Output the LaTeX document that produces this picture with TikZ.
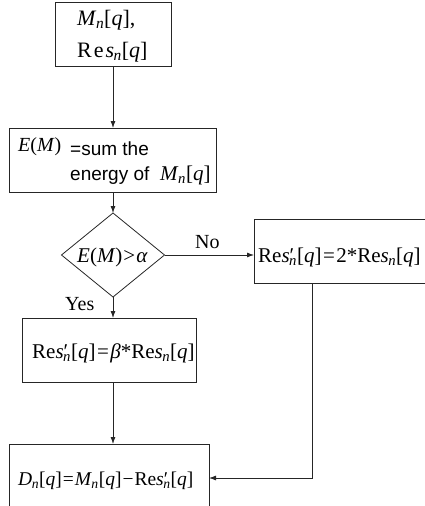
\documentclass[tikz,border=0pt]{standalone}
\usepackage{fontspec}
\setmainfont{Liberation Serif}
\newfontfamily\arialfont{Liberation Sans}
\usetikzlibrary{arrows.meta,shapes.geometric}
\newcommand{\sbn}{\kern-0.5pt\textsubscript{\itshape n}}
\newcommand{\vi}[1]{\textit{#1}}
\newcommand{\pr}{\rlap{′}}
\begin{document}
\begin{tikzpicture}[x=1pt,y=-1pt,
  box/.style={draw=black!85, rectangle, line width=0.8pt, inner sep=0pt, outer sep=0pt, anchor=north west},
  dia/.style={draw=black!85, diamond, line width=0.8pt, inner sep=0pt, outer sep=0pt, aspect=1},
  txt/.style={anchor=base west, inner sep=0pt, font=\fontsize{21}{23}\selectfont},
  stxt/.style={anchor=base west, inner sep=0pt, font=\arialfont\fontsize{19}{21}\selectfont},
  arr/.style={draw=black!85, line width=0.8pt, -{Latex[length=7pt,width=5pt]}},
  ln/.style={draw=black!85, line width=0.8pt}]
\useasboundingbox (0,0) rectangle (425,506);
\clip (0,0) rectangle (425,506);
% boxes
\node[box, minimum width=116pt, minimum height=64pt] (b1) at (55,2) {};
\node[box, minimum width=207pt, minimum height=64pt] (b2) at (9,128) {};
\node[dia, minimum width=103pt, minimum height=84pt] (d) at (113,255) {};
\node[box, minimum width=176pt, minimum height=64pt] (b3) at (254,219) {};
\node[box, minimum width=174pt, minimum height=64pt] (b4) at (22,318) {};
\node[box, minimum width=200pt, minimum height=68pt] (b5) at (9,444) {};
% texts
\node[txt, font=\fontsize{22}{24}\selectfont] (t1a) at (77,25) {\vi{M}\sbn[\vi{q}],};
\node[txt, font=\fontsize{22}{24}\selectfont] (t1b) at (77,57) {R\kern2pt e\kern2pt\vi{s}\sbn[\vi{q}]};
\node[txt, font=\fontsize{20}{22}\selectfont] (t2a) at (18,151) {\vi{E}(\vi{M})};
\node[stxt] (t2b) at (70,155) {=sum the};
\node[stxt] (t2c) at (70,180) {energy of};
\node[txt] (t2d) at (160,180) {\vi{M}\sbn[\vi{q}]};
\node[txt] (td) at (77,262) {\vi{E}(\vi{M})\kern1pt>\kern1pt\vi{α}};
\node[txt] (t3) at (258,262) {Re\vi{s}\pr\sbn[\vi{q}]\kern1.5pt=\kern1.5pt2*Re\vi{s}\sbn[\vi{q}]};
\node[txt] (t4) at (32,358) {Re\vi{s}\pr\sbn[\vi{q}]\kern1.5pt=\kern1.5pt\vi{β}*Re\vi{s}\sbn[\vi{q}]};
\node[txt, font=\fontsize{19.5}{21}\selectfont] (t5) at (18,485) {\vi{D}\sbn[\vi{q}]\kern1pt=\kern1pt\vi{M}\sbn[\vi{q}]\kern1pt−\kern1ptRe\vi{s}\pr\sbn[\vi{q}]};
\node[txt, font=\fontsize{20}{22}\selectfont] (no) at (195,248) {No};
\node[txt, font=\fontsize{20}{22}\selectfont] (yes) at (65,310) {Yes};
% connectors
\draw[arr] (b1.south) -- (b2.north -| b1.south);
\draw[arr] (b2.south -| b1.south) -- (d.north);
\draw[arr] (d.east) -- (d.east -| b3.west);
\draw[arr] (d.south) -- (d.south |- b4.north);
\draw[arr] (d.south |- b4.south) -- (d.south |- b5.north);
\coordinate (c3) at (312,283);
\draw[arr] (c3) |- (b5.east);
\end{tikzpicture}
\end{document}
